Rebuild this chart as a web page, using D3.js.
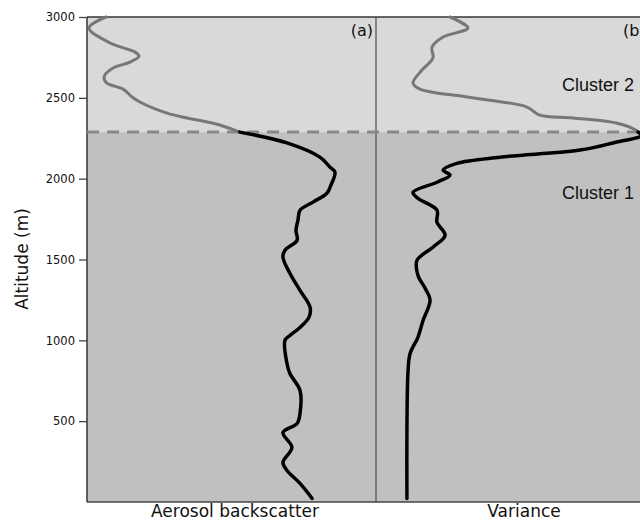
<!DOCTYPE html>
<html>
<head>
<title>Aerosol backscatter and variance profiles</title>
<meta charset="utf-8">
<style>
  body { margin: 0; background: #fff; }
  text { font-family: "DejaVu Sans", sans-serif; fill: #111; }
</style>
</head>
<body>
<script src="https://d3js.org/d3.v7.min.js"></script>
<svg id="chart" width="640" height="521"></svg>
<script>
// altitude (m) of the profile samples, top to bottom
var backAlt = [3000, 2932, 2839, 2783, 2758, 2721, 2684, 2629, 2591, 2554, 2505, 2474, 2405, 2375, 2340, 2300, 2288,
               2221, 2133, 2071, 2040, 1960, 1910, 1855, 1805, 1743, 1681, 1619, 1557, 1514, 1415, 1309, 1204, 1142,
               1080, 1030, 1000, 857, 795, 690, 548, 486, 430, 337, 245, 195, 115, 22];
// aerosol backscatter (arbitrary units, 0-100 across the panel)
var backVal = [6.6, 0.7, 8.0, 16.6, 18.0, 14.9, 9.0, 5.9, 6.9, 12.5, 15.6, 18.3, 27.7, 34.6, 44.3, 51.2, 52.9,
               69.2, 80.6, 84.1, 85.8, 84.4, 83.0, 78.2, 73.7, 73.0, 72.3, 72.7, 68.5, 67.8, 70.2, 73.7, 77.2, 76.8,
               73.7, 70.2, 68.5, 69.2, 70.2, 73.7, 73.7, 72.7, 67.8, 70.9, 67.8, 69.2, 73.7, 77.9];

var varAlt = [3000, 2932, 2876, 2814, 2746, 2672, 2591, 2554, 2505, 2443, 2393, 2375, 2343, 2300, 2288,
              2269, 2221, 2177, 2133, 2095, 2053, 2022, 1978, 1916, 1879, 1805, 1730, 1650, 1576, 1495, 1403,
              1322, 1248, 1124, 1019, 918, 814, 443, 22];
// variance (arbitrary units, 0-100 across the panel)
var varVal = [25.6, 31.8, 23.2, 19.4, 19.7, 15.9, 12.8, 15.2, 31.5, 52.2, 56.7, 68.2, 83.4, 90.0, 90.7,
              92.0, 82.0, 70.6, 42.9, 28.0, 23.2, 25.6, 21.1, 12.8, 14.5, 21.1, 21.1, 23.9, 19.7, 14.2, 14.5,
              17.0, 18.7, 16.3, 14.5, 11.8, 11.1, 10.7, 10.7];

var clusterBoundary = 2288;
var altTicks = [500, 1000, 1500, 2000, 2500, 3000];
var panelLabels = ["(a)", "(b"];
var xTitles = ["Aerosol backscatter", "Variance"];
var clusterNames = ["Cluster 2", "Cluster 1"];

var svg = d3.select("#chart");
var plotL = 87, plotT = 17, plotB = 502, panelW = 289;

var y = d3.scaleLinear().domain([0, 3000]).range([plotB, plotT]);
var xA = d3.scaleLinear().domain([0, 100]).range([plotL, plotL + panelW]);
var xB = d3.scaleLinear().domain([0, 100]).range([plotL + panelW, plotL + 2 * panelW]);

// background: cluster 2 (upper) and cluster 1 (lower)
svg.append("rect").attr("x", plotL).attr("y", y(3000)).attr("width", 640 - plotL)
  .attr("height", y(clusterBoundary) - y(3000)).attr("fill", "#d9d9d9");
svg.append("rect").attr("x", plotL).attr("y", y(clusterBoundary)).attr("width", 640 - plotL)
  .attr("height", y(0) - y(clusterBoundary)).attr("fill", "#c0c0c0");

// frame
svg.append("line").attr("x1", plotL).attr("x2", 640).attr("y1", plotT).attr("y2", plotT)
  .attr("stroke", "#333").attr("stroke-width", 1.5);
svg.append("line").attr("x1", plotL).attr("x2", 640).attr("y1", plotB).attr("y2", plotB)
  .attr("stroke", "#444").attr("stroke-width", 1.5);
svg.append("line").attr("x1", plotL + panelW).attr("x2", plotL + panelW).attr("y1", plotT).attr("y2", plotB)
  .attr("stroke", "#555").attr("stroke-width", 1.3);

// y axis
var yAxis = svg.append("g").attr("transform", "translate(" + plotL + ",0)")
  .call(d3.axisLeft(y).tickValues(altTicks).tickSize(8).tickPadding(4).tickFormat(d3.format("d")));
yAxis.select(".domain").attr("stroke", "#333").attr("stroke-width", 1.5)
  .attr("d", "M0," + plotT + "V" + plotB);
yAxis.selectAll(".tick line").attr("stroke", "#444").attr("stroke-width", 1.3);
yAxis.selectAll(".tick text").style("font-family", "DejaVu Sans").style("font-size", "11.5px").attr("fill", "#222");

svg.append("text").attr("transform", "translate(28,259) rotate(-90)")
  .attr("text-anchor", "middle").style("font-size", "17px").text("Altitude (m)");

// dashed cluster boundary
svg.append("line").attr("x1", plotL).attr("x2", 640)
  .attr("y1", y(clusterBoundary)).attr("y2", y(clusterBoundary))
  .attr("stroke", "#888").attr("stroke-width", 3).attr("stroke-dasharray", "12,8");

// profiles
function drawProfile(alts, vals, x) {
  var pts = alts.map(function(a, i) { return {alt: a, v: vals[i]}; });
  var line = d3.line().x(function(d) { return x(d.v); }).y(function(d) { return y(d.alt); })
    .curve(d3.curveCatmullRom.alpha(0.5));
  svg.append("path").datum(pts.filter(function(d) { return d.alt >= clusterBoundary; }))
    .attr("d", line).attr("fill", "none").attr("stroke", "#777").attr("stroke-width", 3)
    .attr("stroke-linecap", "round");
  svg.append("path").datum(pts.filter(function(d) { return d.alt <= clusterBoundary; }))
    .attr("d", line).attr("fill", "none").attr("stroke", "#000").attr("stroke-width", 3.5)
    .attr("stroke-linecap", "round");
}
drawProfile(backAlt, backVal, xA);
drawProfile(varAlt, varVal, xB);

// panel labels
svg.append("text").attr("x", plotL + panelW - 3).attr("y", 36).attr("text-anchor", "end")
  .style("font-size", "16px").text(panelLabels[0]);
svg.append("text").attr("x", 623).attr("y", 36)
  .style("font-size", "16px").text(panelLabels[1]);

// cluster names
svg.selectAll(".cluster").data(clusterNames).enter().append("text")
  .attr("class", "cluster").attr("x", 562).attr("y", function(d, i) { return i === 0 ? 91 : 199; })
  .style("font-family", "Liberation Sans, Arial, sans-serif").style("font-size", "18px")
  .text(function(d) { return d; });

// x titles
svg.append("text").attr("x", 235).attr("y", 517).attr("text-anchor", "middle")
  .style("font-size", "17px").text(xTitles[0]);
svg.append("text").attr("x", 524).attr("y", 517).attr("text-anchor", "middle")
  .style("font-size", "17px").text(xTitles[1]);
</script>
</body>
</html>
